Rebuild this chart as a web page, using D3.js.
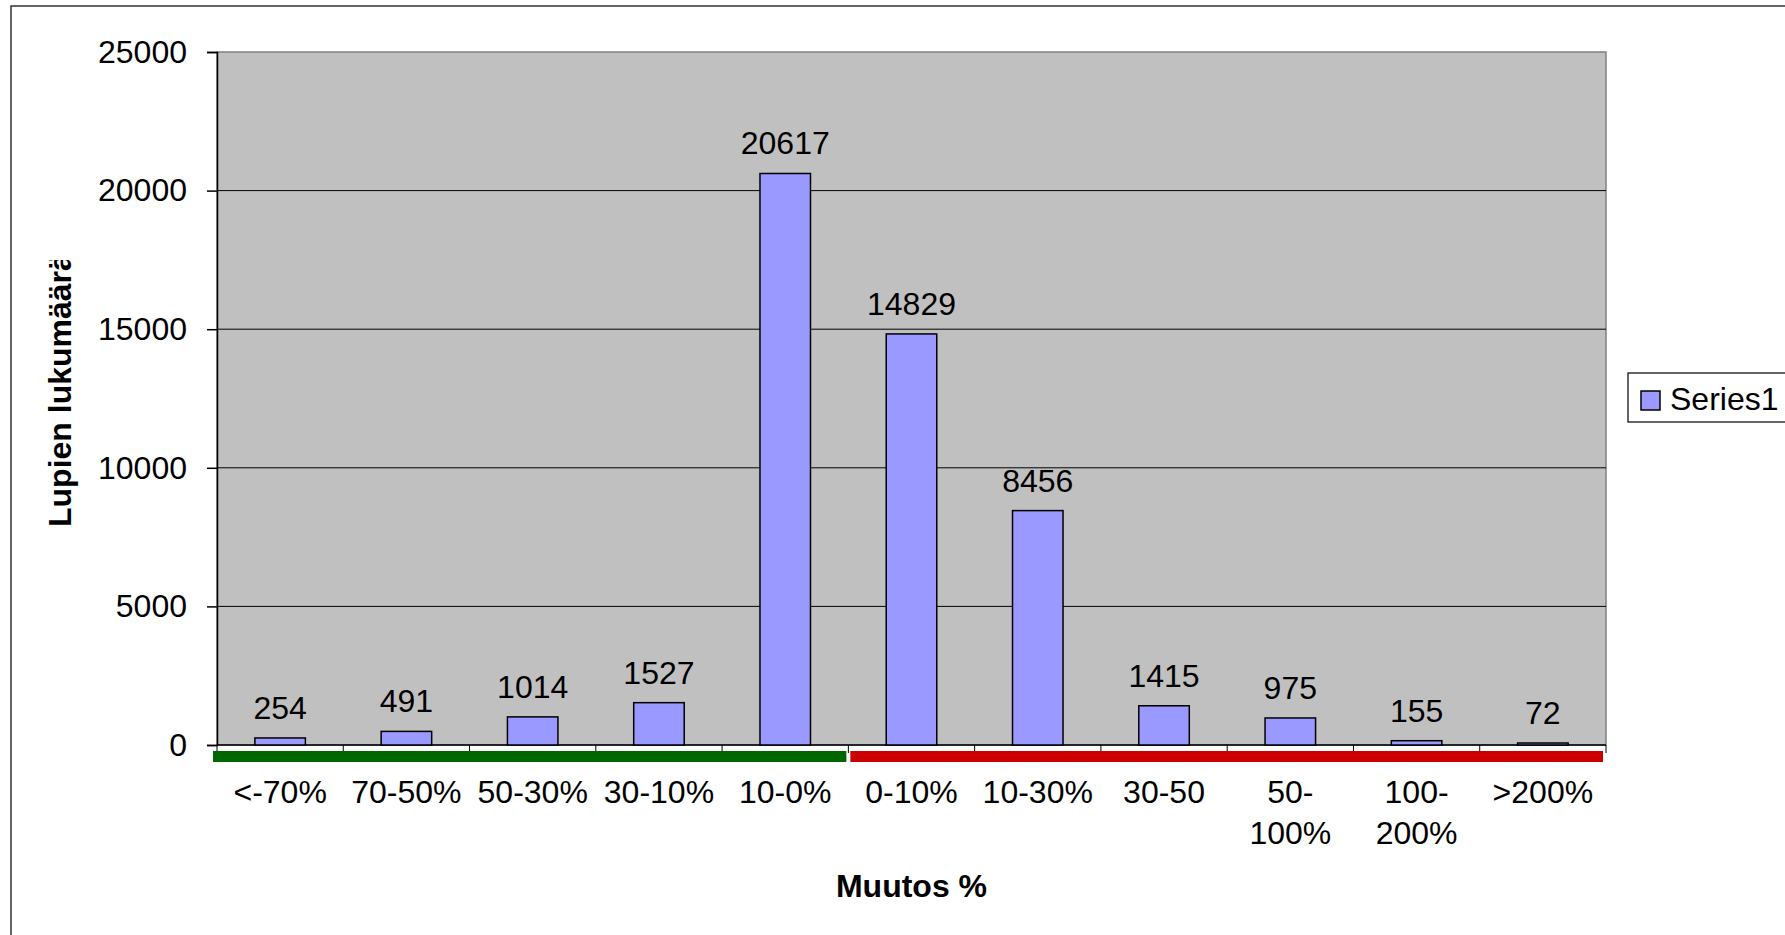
<!DOCTYPE html>
<html>
<head>
<meta charset="utf-8">
<script src="https://cdn.jsdelivr.net/npm/d3@7"></script>
<style>
  html, body { margin: 0; padding: 0; background: #fff; overflow: hidden; }
  svg { display: block; font-family: "Liberation Sans", Arial, sans-serif; }
</style>
</head>
<body>
<svg id="chart" width="1785" height="935"></svg>
<script>
// Lupien muutos % — bar chart
const categories = ["<-70%", "70-50%", "50-30%", "30-10%", "10-0%", "0-10%", "10-30%", "30-50", "50-100%", "100-200%", ">200%"];
const tickLabels = [["<-70%"], ["70-50%"], ["50-30%"], ["30-10%"], ["10-0%"], ["0-10%"], ["10-30%"], ["30-50"], ["50-", "100%"], ["100-", "200%"], [">200%"]];
const values = [254, 491, 1014, 1527, 20617, 14829, 8456, 1415, 975, 155, 72];
const yTicks = [0, 5000, 10000, 15000, 20000, 25000];
const seriesName = "Series1";
// decrease / increase groups under the axis
const groupFirst = ["<-70%", "0-10%"];
const groupLast = ["10-0%", ">200%"];

(function () {
  const svg = d3.select("#chart");
  const left = 217, right = 1606, top = 52, bottom = 745;

  const x = d3.scaleBand().domain(categories).range([left, right]).paddingInner(0.6).paddingOuter(0.3);
  const xb = d3.scaleBand().domain(categories).range([left, right]);
  const y = d3.scaleLinear().domain([0, 25000]).range([bottom, top]);

  // outer chart border (runs off the right and bottom)
  svg.append("rect")
    .attr("x", 11).attr("y", 6).attr("width", 1900).attr("height", 1000)
    .attr("fill", "#fff").attr("stroke", "#333").attr("stroke-width", 1.5);

  // plot area
  svg.append("rect")
    .attr("x", left).attr("y", top).attr("width", right - left).attr("height", bottom - top)
    .attr("fill", "#c0c0c0").attr("stroke", "#808080").attr("stroke-width", 1.5);

  // gridlines
  svg.append("g")
    .selectAll("line")
    .data(yTicks.filter((d) => d > 0 && d < 25000))
    .join("line")
    .attr("x1", left).attr("x2", right)
    .attr("y1", (d) => y(d)).attr("y2", (d) => y(d))
    .attr("stroke", "#000").attr("stroke-width", 1);

  // y axis
  const yAxis = svg.append("g")
    .attr("transform", `translate(${left},0)`)
    .call(d3.axisLeft(y).tickValues(yTicks).tickSize(10).tickPadding(20).tickFormat(d3.format("d")));
  yAxis.select(".domain").attr("stroke", "#000").attr("stroke-width", 1.5);
  yAxis.selectAll(".tick line").attr("stroke", "#000").attr("stroke-width", 1.5);
  yAxis.selectAll("text").attr("font-size", 32).attr("fill", "#000")
    .attr("font-family", "Liberation Sans, Arial, sans-serif");

  // x axis line + tick marks at category boundaries
  svg.append("line")
    .attr("x1", left).attr("x2", right).attr("y1", bottom).attr("y2", bottom)
    .attr("stroke", "#000").attr("stroke-width", 1.5);
  svg.append("g")
    .selectAll("line")
    .data(categories.concat(["end"]))
    .join("line")
    .attr("x1", (d, i) => left + i * xb.bandwidth())
    .attr("x2", (d, i) => left + i * xb.bandwidth())
    .attr("y1", bottom).attr("y2", bottom + 8)
    .attr("stroke", "#000").attr("stroke-width", 1);

  // coloured group bands under the axis
  const bandColors = ["#006600", "#cc0000"];
  svg.append("g")
    .selectAll("rect")
    .data(groupFirst.map((f, i) => ({ from: f, to: groupLast[i], color: bandColors[i] })))
    .join("rect")
    .attr("x", (d, i) => xb(d.from) + (i === 0 ? -4 : 2))
    .attr("width", (d, i) => xb(d.to) + xb.bandwidth() - xb(d.from) + (i === 0 ? 2 : -5))
    .attr("y", bottom + 6).attr("height", 11)
    .attr("fill", (d) => d.color);

  // bars
  svg.append("g")
    .selectAll("rect")
    .data(values)
    .join("rect")
    .attr("x", (d, i) => x(categories[i]))
    .attr("width", x.bandwidth())
    .attr("y", (d) => y(d))
    .attr("height", (d) => bottom - y(d))
    .attr("fill", "#9999ff").attr("stroke", "#000").attr("stroke-width", 1.5);

  // data labels
  svg.append("g")
    .selectAll("text")
    .data(values)
    .join("text")
    .attr("x", (d, i) => x(categories[i]) + x.bandwidth() / 2)
    .attr("y", (d) => y(d) - 19)
    .attr("text-anchor", "middle")
    .attr("font-size", 32)
    .text((d) => d);

  // category labels (wrapped like Excel)
  const xl = svg.append("g")
    .selectAll("text")
    .data(tickLabels)
    .join("text")
    .attr("x", (d, i) => xb(categories[i]) + xb.bandwidth() / 2)
    .attr("y", 803)
    .attr("text-anchor", "middle")
    .attr("font-size", 32);
  xl.selectAll("tspan")
    .data((d) => d)
    .join("tspan")
    .attr("x", function () { return this.parentNode.getAttribute("x"); })
    .attr("dy", (d, i) => (i === 0 ? 0 : 41))
    .text((d) => d);

  // axis titles
  svg.append("text")
    .attr("x", (left + right) / 2).attr("y", 897)
    .attr("text-anchor", "middle")
    .attr("font-size", 32).attr("font-weight", "bold")
    .text("Muutos %");

  svg.append("clipPath").attr("id", "ytclip")
    .append("rect").attr("x", 0).attr("y", 260).attr("width", 120).attr("height", 400);
  svg.append("g").attr("clip-path", "url(#ytclip)")
    .append("text")
    .attr("transform", "translate(71,527) rotate(-90)")
    .attr("text-anchor", "start")
    .attr("font-size", 32).attr("font-weight", "bold")
    .text("Lupien lukumäärä");

  // legend
  const lg = svg.append("g");
  lg.append("rect")
    .attr("x", 1628).attr("y", 373).attr("width", 300).attr("height", 49)
    .attr("fill", "#fff").attr("stroke", "#000").attr("stroke-width", 1.2);
  lg.append("rect")
    .attr("x", 1641).attr("y", 391).attr("width", 19).attr("height", 19)
    .attr("fill", "#9999ff").attr("stroke", "#000").attr("stroke-width", 1.5);
  lg.append("text")
    .attr("x", 1670).attr("y", 410)
    .attr("font-size", 32)
    .text(seriesName);
})();
</script>
</body>
</html>
